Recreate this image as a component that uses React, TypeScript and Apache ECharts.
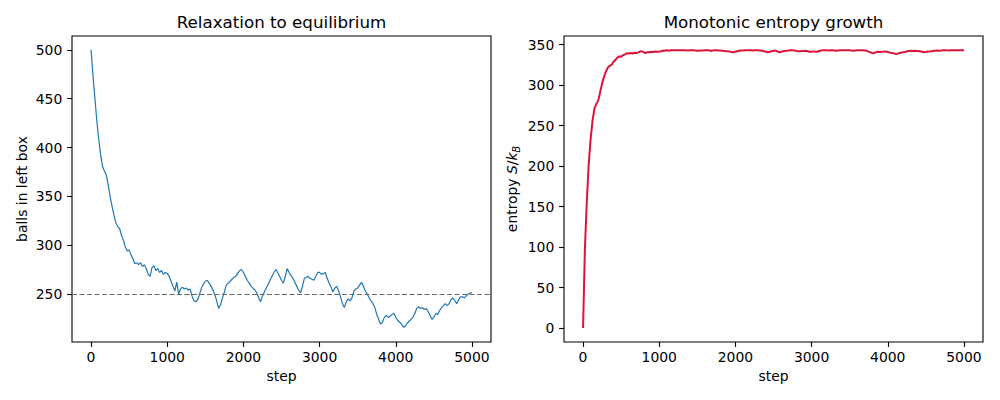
import React, { useEffect, useRef } from 'react';
import * as echarts from 'echarts';

// step spacing of the sampled points (0 .. 5000)
const STEP = 25;

// balls in the left box, read every 25 steps
const leftBox = [
  500, 474, 451, 428, 409, 393, 381, 376, 372, 362, 350, 340, 331, 323, 319, 317, 310, 305, 298, 294,
  295, 290, 286, 281, 282, 280, 282, 278, 280, 276, 270, 268, 277, 279, 274, 276, 272, 274, 270, 272,
  271, 268, 263, 258, 253, 262, 250, 255, 257, 255, 256, 254, 255, 248, 243, 242, 244, 250, 256, 260,
  263, 264, 261, 258, 254, 249, 243, 235, 239, 246, 252, 259, 261, 263, 265, 267, 268, 271, 274, 275,
  272, 268, 264, 261, 258, 256, 254, 251, 246, 242, 248, 252, 256, 260, 264, 268, 272, 275, 272, 268,
  264, 261, 268, 276, 272, 269, 266, 262, 258, 254, 251, 258, 266, 267, 268, 266, 265, 264, 268, 272,
  272, 270, 271, 272, 266, 261, 257, 252, 256, 258, 253, 247, 240, 236, 242, 245, 243, 246, 253, 255,
  256, 259, 262, 258, 253, 250, 246, 243, 240, 236, 229, 224, 219, 221, 226, 228, 226, 227, 229, 230,
  226, 223, 221, 219, 216, 217, 220, 222, 224, 226, 230, 235, 237, 235, 236, 234, 235, 232, 228, 224,
  226, 230, 229, 233, 236, 238, 240, 238, 240, 244, 246, 243, 240, 244, 247, 247, 246, 248, 250, 251,
  251,
];

// entropy S/k_B, read every 25 steps
const entropy = [
  0, 99.6, 157.5, 203.1, 234.1, 256.5, 271.2, 276.9, 281.2, 291.4, 302.2, 310.2, 316.6, 321.7, 324.0, 325.1, 328.8, 331.1, 334.0, 335.5,
  335.2, 336.9, 338.0, 339.4, 339.1, 339.6, 339.1, 340.1, 339.6, 340.5, 341.6, 341.9, 340.3, 339.8, 340.9, 340.5, 341.3, 340.9, 341.6, 341.3,
  341.4, 341.9, 342.5, 342.9, 343.2, 342.6, 343.2, 343.1, 343.0, 343.1, 343.1, 343.1, 343.1, 343.2, 343.0, 342.9, 343.1, 343.2, 343.1, 342.8,
  342.5, 342.4, 342.7, 342.9, 343.1, 343.2, 343.0, 342.3, 342.7, 343.1, 343.2, 342.9, 342.7, 342.5, 342.3, 342.0, 341.9, 341.4, 340.9, 340.7,
  341.3, 341.9, 342.4, 342.7, 342.9, 343.1, 343.1, 343.2, 343.1, 342.9, 343.2, 343.2, 343.1, 342.8, 342.4, 341.9, 341.3, 340.7, 341.3, 341.9,
  342.4, 342.7, 341.9, 340.5, 341.3, 341.8, 342.2, 342.6, 342.9, 343.1, 343.2, 342.9, 342.2, 342.0, 341.9, 342.2, 342.3, 342.4, 341.9, 341.3,
  341.3, 341.6, 341.4, 341.3, 342.2, 342.7, 343.0, 343.2, 343.1, 342.9, 343.2, 343.2, 342.8, 342.4, 342.9, 343.1, 343.0, 343.1, 343.2, 343.1,
  343.1, 342.9, 342.6, 342.9, 343.2, 343.2, 343.1, 343.0, 342.8, 342.4, 341.4, 340.5, 339.4, 339.8, 340.9, 341.3, 340.9, 341.1, 341.4, 341.6,
  340.9, 340.3, 339.8, 339.4, 338.6, 338.8, 339.6, 340.1, 340.5, 340.9, 341.6, 342.3, 342.5, 342.3, 342.4, 342.2, 342.3, 341.9, 341.3, 340.5,
  340.9, 341.6, 341.4, 342.0, 342.4, 342.6, 342.8, 342.6, 342.8, 343.1, 343.1, 343.0, 342.8, 343.1, 343.2, 343.2, 343.1, 343.2, 343.2, 343.2,
  343.2,
];

const equilibrium = 250;
const stepTicks = [0, 1000, 2000, 3000, 4000, 5000];
const leftTicks = [250, 300, 350, 400, 450, 500];
const rightTicks = [0, 50, 100, 150, 200, 250, 300, 350];

const FONT = 'DejaVu Sans';

const App: React.FC = () => {
  const chartRef = useRef<HTMLDivElement>(null);

  useEffect(() => {
    if (!chartRef.current) return;
    const chart = echarts.init(chartRef.current, null, { renderer: 'svg' });

    const leftData = leftBox.map((v, i) => [i * STEP, v]);
    const rightData = entropy.map((v, i) => [i * STEP, v]);

    const labelStyle = { color: '#000', fontSize: 13.9, fontFamily: FONT };
    const plain = (v: number) => String(v);
    const tick = (vals: number[]) => ({
      show: true,
      length: 4.9,
      lineStyle: { color: '#000', width: 1.1 },
      customValues: vals,
    });

    const xAxisFor = (gridIndex: number) => ({
      type: 'value',
      gridIndex,
      min: -250,
      max: 5250,
      axisLine: { show: false, onZero: false },
      axisTick: tick(stepTicks),
      axisLabel: { ...labelStyle, margin: 8, customValues: stepTicks, formatter: plain },
      splitLine: { show: false },
      name: 'step',
      nameLocation: 'middle',
      nameGap: 27,
      nameTextStyle: { ...labelStyle },
    });

    const option = {
      animation: false,
      backgroundColor: '#fff',
      grid: [
        { left: 72, top: 36, width: 419, height: 306, show: true, borderColor: '#000', borderWidth: 1.1, backgroundColor: 'transparent' },
        { left: 564, top: 36, width: 419, height: 306, show: true, borderColor: '#000', borderWidth: 1.1, backgroundColor: 'transparent' },
      ],
      graphic: [
        {
          type: 'text', x: 281.5, y: 22,
          style: { text: 'Relaxation to equilibrium', align: 'center', verticalAlign: 'middle', fontSize: 16.7, fontFamily: FONT, fill: '#000' },
        },
        {
          type: 'text', x: 773.5, y: 22,
          style: { text: 'Monotonic entropy growth', align: 'center', verticalAlign: 'middle', fontSize: 16.7, fontFamily: FONT, fill: '#000' },
        },
      ],
      xAxis: [xAxisFor(0), xAxisFor(1)],
      yAxis: [
        {
          type: 'value',
          gridIndex: 0,
          min: 200.75,
          max: 514.25,
          axisLine: { show: false, onZero: false },
          axisTick: tick(leftTicks),
          axisLabel: { ...labelStyle, margin: 9.7, customValues: leftTicks, formatter: plain },
          splitLine: { show: false },
          name: 'balls in left box',
          nameLocation: 'middle',
          nameGap: 43,
          nameTextStyle: { ...labelStyle },
        },
        {
          type: 'value',
          gridIndex: 1,
          min: -17.2,
          max: 360.7,
          axisLine: { show: false, onZero: false },
          axisTick: tick(rightTicks),
          axisLabel: { ...labelStyle, margin: 9.7, customValues: rightTicks, formatter: plain },
          splitLine: { show: false },
          name: 'entropy {i|S}/{i|k}{sub|B}',
          nameLocation: 'middle',
          nameGap: 43,
          nameTextStyle: {
            ...labelStyle,
            lineHeight: 18,
            rich: {
              i: { fontStyle: 'italic', fontSize: 13.9, fontFamily: FONT, color: '#000', lineHeight: 18 },
              sub: { fontStyle: 'italic', fontSize: 9.7, fontFamily: FONT, color: '#000', lineHeight: 18, verticalAlign: 'bottom' },
            },
          },
        },
      ],
      series: [
        {
          type: 'line',
          xAxisIndex: 0,
          yAxisIndex: 0,
          data: leftData,
          showSymbol: false,
          lineStyle: { color: '#1f77b4', width: 1.2 },
          markLine: {
            silent: true,
            symbol: 'none',
            label: { show: false },
            lineStyle: { color: '#666', width: 1.2, type: [5, 2.5] },
            data: [{ yAxis: equilibrium }],
          },
        },
        {
          type: 'line',
          xAxisIndex: 1,
          yAxisIndex: 1,
          data: rightData,
          showSymbol: false,
          lineStyle: { color: '#dc143c', width: 2 },
        },
      ],
    };

    chart.setOption(option);
    return () => {
      chart.dispose();
    };
  }, []);

  return (
    <div
      ref={chartRef}
      style={{ position: 'absolute', left: 0, top: 0, width: 1000, height: 400, background: '#fff' }}
    />
  );
};

export default App;
